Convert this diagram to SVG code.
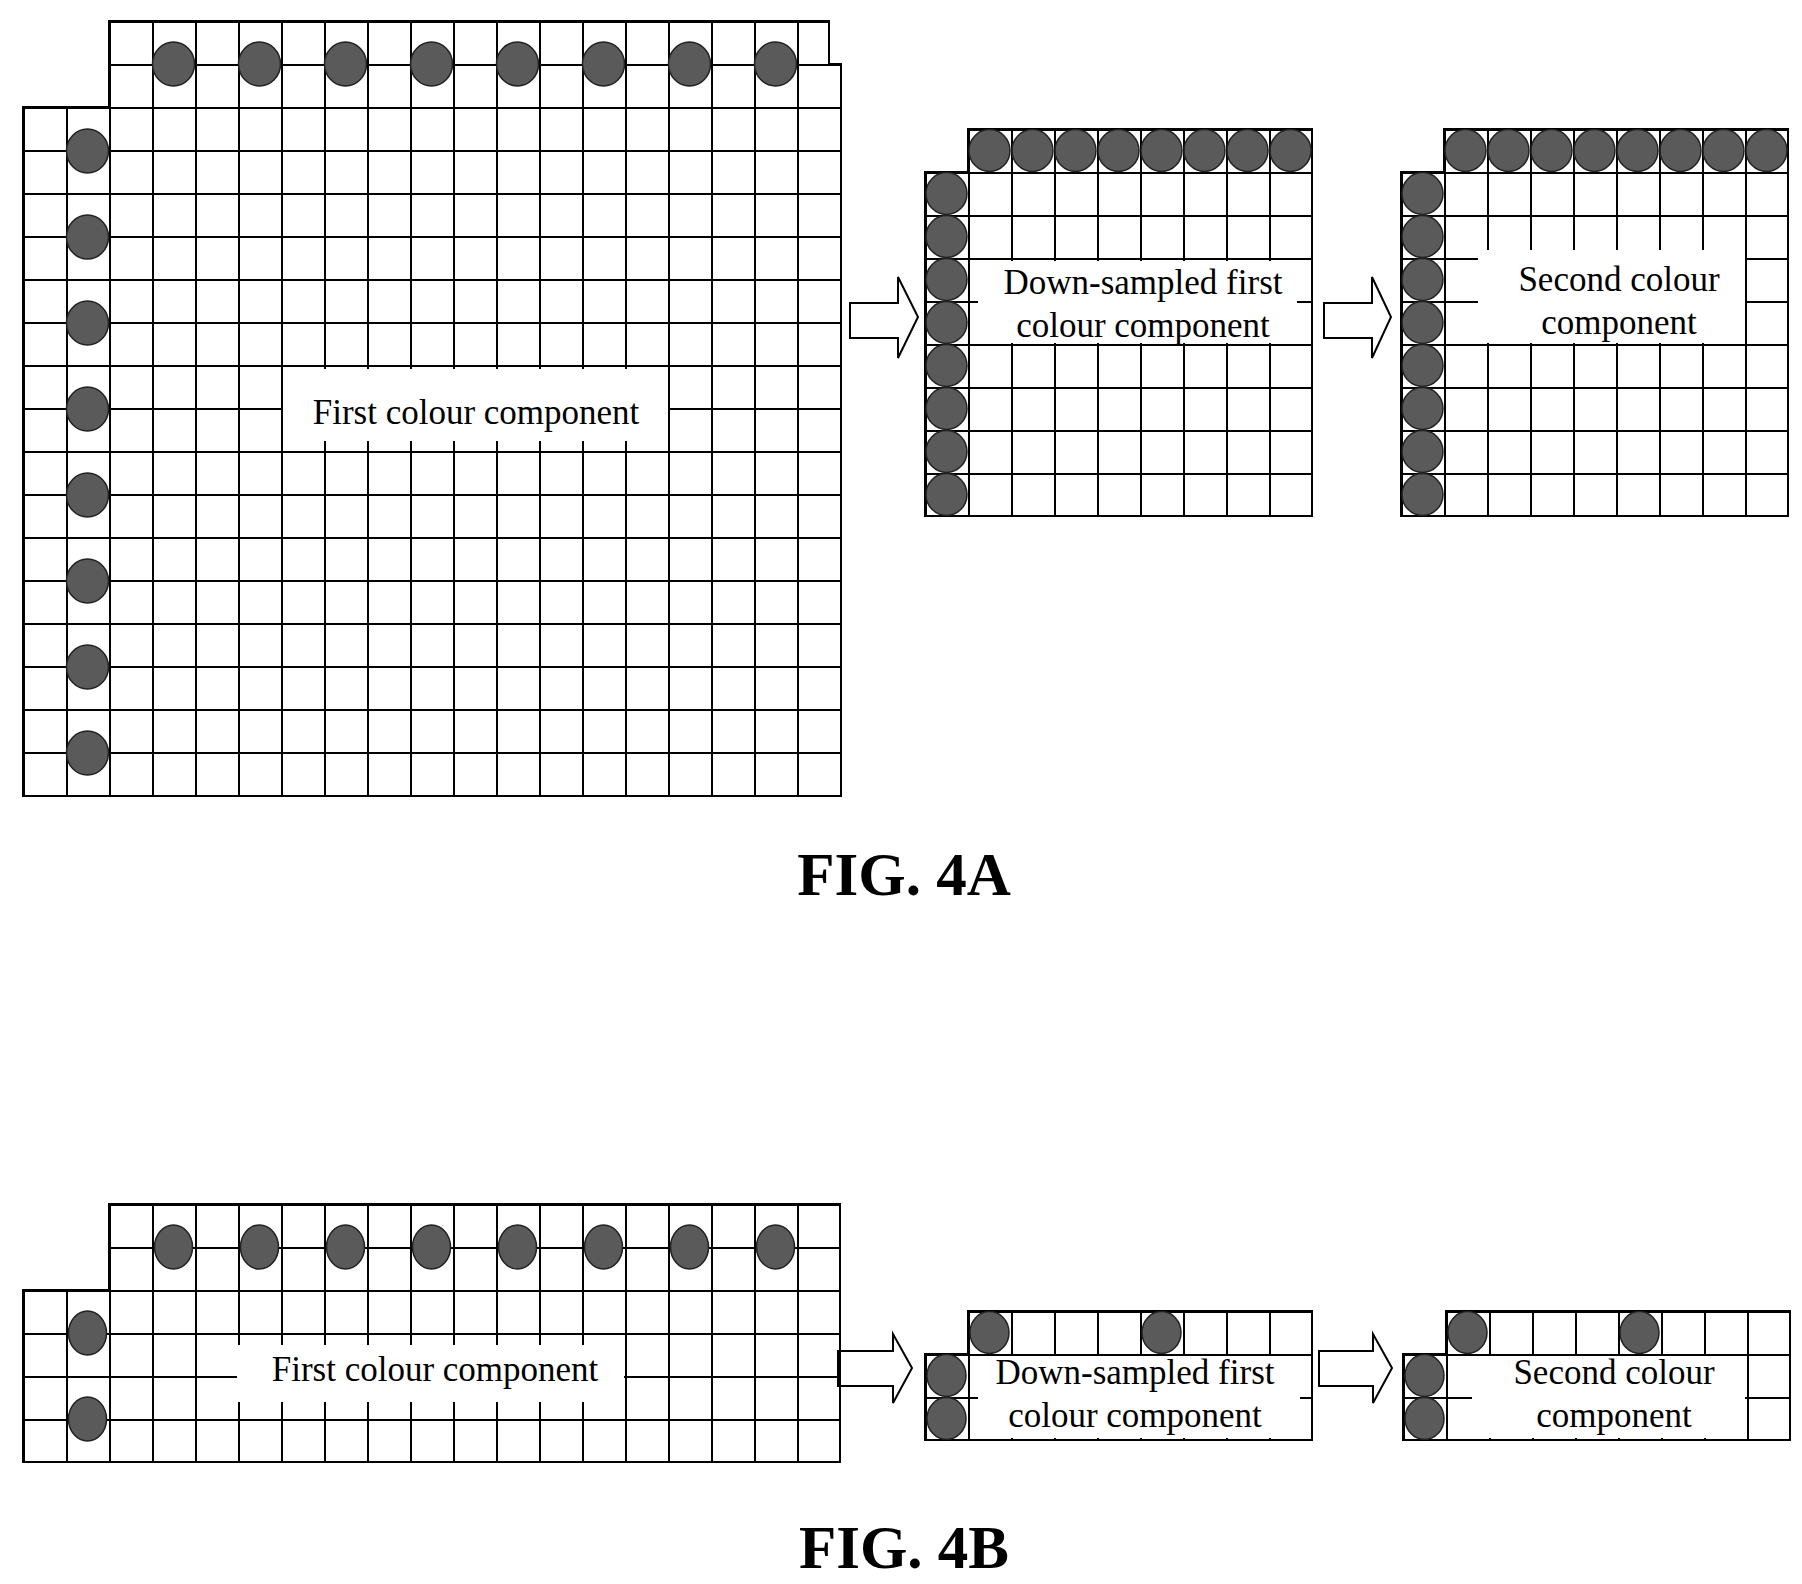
<svg xmlns="http://www.w3.org/2000/svg" width="1802" height="1584" viewBox="0 0 1802 1584">
<style>
.o{fill:none;stroke:#000;stroke-width:2}
.d{fill:#5a5a5a;stroke:#222;stroke-width:1.5}
.w{fill:#fff;stroke:none}
.t{font-family:"Liberation Serif",serif;font-size:35px;text-anchor:middle;fill:#000}
.f{font-family:"Liberation Serif",serif;font-size:61px;font-weight:bold;text-anchor:middle;fill:#000}
.ar{fill:#fff;stroke:#000;stroke-width:2}
</style>
<defs>
<pattern id="gA1" x="23" y="21" width="43" height="43" patternUnits="userSpaceOnUse"><path d="M0 1H43M1 0V43" stroke="#000" stroke-width="2"/></pattern>
<pattern id="gA2" x="925" y="129" width="43" height="43" patternUnits="userSpaceOnUse"><path d="M0 1H43M1 0V43" stroke="#000" stroke-width="2"/></pattern>
<pattern id="gA3" x="1401" y="129" width="43" height="43" patternUnits="userSpaceOnUse"><path d="M0 1H43M1 0V43" stroke="#000" stroke-width="2"/></pattern>
<pattern id="gB1" x="23" y="1204" width="43" height="43" patternUnits="userSpaceOnUse"><path d="M0 1H43M1 0V43" stroke="#000" stroke-width="2"/></pattern>
<pattern id="gB2" x="925" y="1311" width="43" height="43" patternUnits="userSpaceOnUse"><path d="M0 1H43M1 0V43" stroke="#000" stroke-width="2"/></pattern>
<pattern id="gB3" x="1403" y="1311" width="43" height="43" patternUnits="userSpaceOnUse"><path d="M0 1H43M1 0V43" stroke="#000" stroke-width="2"/></pattern>
</defs>
<rect width="1802" height="1584" fill="#fff"/>

<g id="A1">
<polygon points="109,21 829,21 829,64 841,64 841,796 23,796 23,107 109,107" fill="url(#gA1)"/>
<polygon class="o" points="109,21 829,21 829,64 841,64 841,796 23,796 23,107 109,107"/>
<g>
<ellipse class="d" cx="173.5" cy="64" rx="21" ry="22"/><ellipse class="d" cx="259.5" cy="64" rx="21" ry="22"/><ellipse class="d" cx="345.5" cy="64" rx="21" ry="22"/><ellipse class="d" cx="431.5" cy="64" rx="21" ry="22"/><ellipse class="d" cx="517.5" cy="64" rx="21" ry="22"/><ellipse class="d" cx="603.5" cy="64" rx="21" ry="22"/><ellipse class="d" cx="689.5" cy="64" rx="21" ry="22"/><ellipse class="d" cx="775.5" cy="64" rx="21" ry="22"/>
<ellipse class="d" cx="87.5" cy="151" rx="21" ry="22"/><ellipse class="d" cx="87.5" cy="237" rx="21" ry="22"/><ellipse class="d" cx="87.5" cy="323" rx="21" ry="22"/><ellipse class="d" cx="87.5" cy="409" rx="21" ry="22"/><ellipse class="d" cx="87.5" cy="495" rx="21" ry="22"/><ellipse class="d" cx="87.5" cy="581" rx="21" ry="22"/><ellipse class="d" cx="87.5" cy="667" rx="21" ry="22"/><ellipse class="d" cx="87.5" cy="753" rx="21" ry="22"/>
</g>
<rect class="w" x="283" y="369" width="385" height="72"/>
<text class="t" x="476" y="424">First colour component</text>
</g>

<g id="A2">
<polygon points="968,129 1312,129 1312,516 925,516 925,172 968,172" fill="url(#gA2)"/>
<polygon class="o" points="968,129 1312,129 1312,516 925,516 925,172 968,172"/>
<rect class="w" x="978" y="261" width="319" height="82"/>
<g>
<ellipse class="d" cx="989.5" cy="150.5" rx="20.5" ry="21"/><ellipse class="d" cx="1032.5" cy="150.5" rx="20.5" ry="21"/><ellipse class="d" cx="1075.5" cy="150.5" rx="20.5" ry="21"/><ellipse class="d" cx="1118.5" cy="150.5" rx="20.5" ry="21"/><ellipse class="d" cx="1161.5" cy="150.5" rx="20.5" ry="21"/><ellipse class="d" cx="1204.5" cy="150.5" rx="20.5" ry="21"/><ellipse class="d" cx="1247.5" cy="150.5" rx="20.5" ry="21"/><ellipse class="d" cx="1290.5" cy="150.5" rx="20.5" ry="21"/>
<ellipse class="d" cx="946.5" cy="193.5" rx="20.5" ry="21"/><ellipse class="d" cx="946.5" cy="236.5" rx="20.5" ry="21"/><ellipse class="d" cx="946.5" cy="279.5" rx="20.5" ry="21"/><ellipse class="d" cx="946.5" cy="322.5" rx="20.5" ry="21"/><ellipse class="d" cx="946.5" cy="365.5" rx="20.5" ry="21"/><ellipse class="d" cx="946.5" cy="408.5" rx="20.5" ry="21"/><ellipse class="d" cx="946.5" cy="451.5" rx="20.5" ry="21"/><ellipse class="d" cx="946.5" cy="494.5" rx="20.5" ry="21"/>
</g>
<text class="t" x="1143" y="294">Down-sampled first</text>
<text class="t" x="1143" y="337">colour component</text>
</g>

<g id="A3">
<polygon points="1444,129 1788,129 1788,516 1401,516 1401,172 1444,172" fill="url(#gA3)"/>
<polygon class="o" points="1444,129 1788,129 1788,516 1401,516 1401,172 1444,172"/>
<rect class="w" x="1478" y="250" width="267" height="93"/>
<g>
<ellipse class="d" cx="1465.5" cy="150.5" rx="20.5" ry="21"/><ellipse class="d" cx="1508.5" cy="150.5" rx="20.5" ry="21"/><ellipse class="d" cx="1551.5" cy="150.5" rx="20.5" ry="21"/><ellipse class="d" cx="1594.5" cy="150.5" rx="20.5" ry="21"/><ellipse class="d" cx="1637.5" cy="150.5" rx="20.5" ry="21"/><ellipse class="d" cx="1680.5" cy="150.5" rx="20.5" ry="21"/><ellipse class="d" cx="1723.5" cy="150.5" rx="20.5" ry="21"/><ellipse class="d" cx="1766.5" cy="150.5" rx="20.5" ry="21"/>
<ellipse class="d" cx="1422.5" cy="193.5" rx="20.5" ry="21"/><ellipse class="d" cx="1422.5" cy="236.5" rx="20.5" ry="21"/><ellipse class="d" cx="1422.5" cy="279.5" rx="20.5" ry="21"/><ellipse class="d" cx="1422.5" cy="322.5" rx="20.5" ry="21"/><ellipse class="d" cx="1422.5" cy="365.5" rx="20.5" ry="21"/><ellipse class="d" cx="1422.5" cy="408.5" rx="20.5" ry="21"/><ellipse class="d" cx="1422.5" cy="451.5" rx="20.5" ry="21"/><ellipse class="d" cx="1422.5" cy="494.5" rx="20.5" ry="21"/>
</g>
<text class="t" x="1619" y="291">Second colour</text>
<text class="t" x="1619" y="334">component</text>
</g>

<g id="connectors">
<polygon class="ar" points="850,303 898,303 898,277 918,317 898,358 898,338 850,338"/>
<polygon class="ar" points="1324,303 1372,303 1372,277 1391,317 1372,358 1372,338 1324,338"/>
<polygon class="ar" points="838,1351 893,1351 893,1334 912,1368 893,1403 893,1386 838,1386"/>
<polygon class="ar" points="1319,1351 1373,1351 1373,1334 1392,1368 1373,1403 1373,1386 1319,1386"/>
</g>

<text class="f" x="904" y="895">FIG. 4A</text>

<g id="B1">
<polygon points="109,1204 840,1204 840,1462 23,1462 23,1290 109,1290" fill="url(#gB1)"/>
<polygon class="o" points="109,1204 840,1204 840,1462 23,1462 23,1290 109,1290"/>
<rect class="w" x="237" y="1345" width="387" height="57"/>
<g>
<ellipse class="d" cx="173.5" cy="1247" rx="19" ry="22"/><ellipse class="d" cx="259.5" cy="1247" rx="19" ry="22"/><ellipse class="d" cx="345.5" cy="1247" rx="19" ry="22"/><ellipse class="d" cx="431.5" cy="1247" rx="19" ry="22"/><ellipse class="d" cx="517.5" cy="1247" rx="19" ry="22"/><ellipse class="d" cx="603.5" cy="1247" rx="19" ry="22"/><ellipse class="d" cx="689.5" cy="1247" rx="19" ry="22"/><ellipse class="d" cx="775.5" cy="1247" rx="19" ry="22"/>
<ellipse class="d" cx="87.5" cy="1333" rx="19" ry="22"/><ellipse class="d" cx="87.5" cy="1419" rx="19" ry="22"/>
</g>
<text class="t" x="435" y="1381">First colour component</text>
</g>

<g id="B2">
<polygon points="968,1311 1312,1311 1312,1440 925,1440 925,1354 968,1354" fill="url(#gB2)"/>
<polygon class="o" points="968,1311 1312,1311 1312,1440 925,1440 925,1354 968,1354"/>
<rect class="w" x="978" y="1356" width="322" height="82"/>
<g>
<ellipse class="d" cx="989.5" cy="1332.5" rx="19.5" ry="21"/><ellipse class="d" cx="1161.5" cy="1332.5" rx="19.5" ry="21"/>
<ellipse class="d" cx="946.5" cy="1375.5" rx="19.5" ry="21"/><ellipse class="d" cx="946.5" cy="1418.5" rx="19.5" ry="21"/>
</g>
<text class="t" x="1135" y="1384">Down-sampled first</text>
<text class="t" x="1135" y="1427">colour component</text>
</g>

<g id="B3">
<polygon points="1446,1311 1790,1311 1790,1440 1403,1440 1403,1354 1446,1354" fill="url(#gB3)"/>
<polygon class="o" points="1446,1311 1790,1311 1790,1440 1403,1440 1403,1354 1446,1354"/>
<rect class="w" x="1472" y="1356" width="273" height="82"/>
<g>
<ellipse class="d" cx="1467.5" cy="1332.5" rx="19.5" ry="21"/><ellipse class="d" cx="1639.5" cy="1332.5" rx="19.5" ry="21"/>
<ellipse class="d" cx="1424.5" cy="1375.5" rx="19.5" ry="21"/><ellipse class="d" cx="1424.5" cy="1418.5" rx="19.5" ry="21"/>
</g>
<text class="t" x="1614" y="1384">Second colour</text>
<text class="t" x="1614" y="1427">component</text>
</g>

<text class="f" x="904" y="1568">FIG. 4B</text>
</svg>
